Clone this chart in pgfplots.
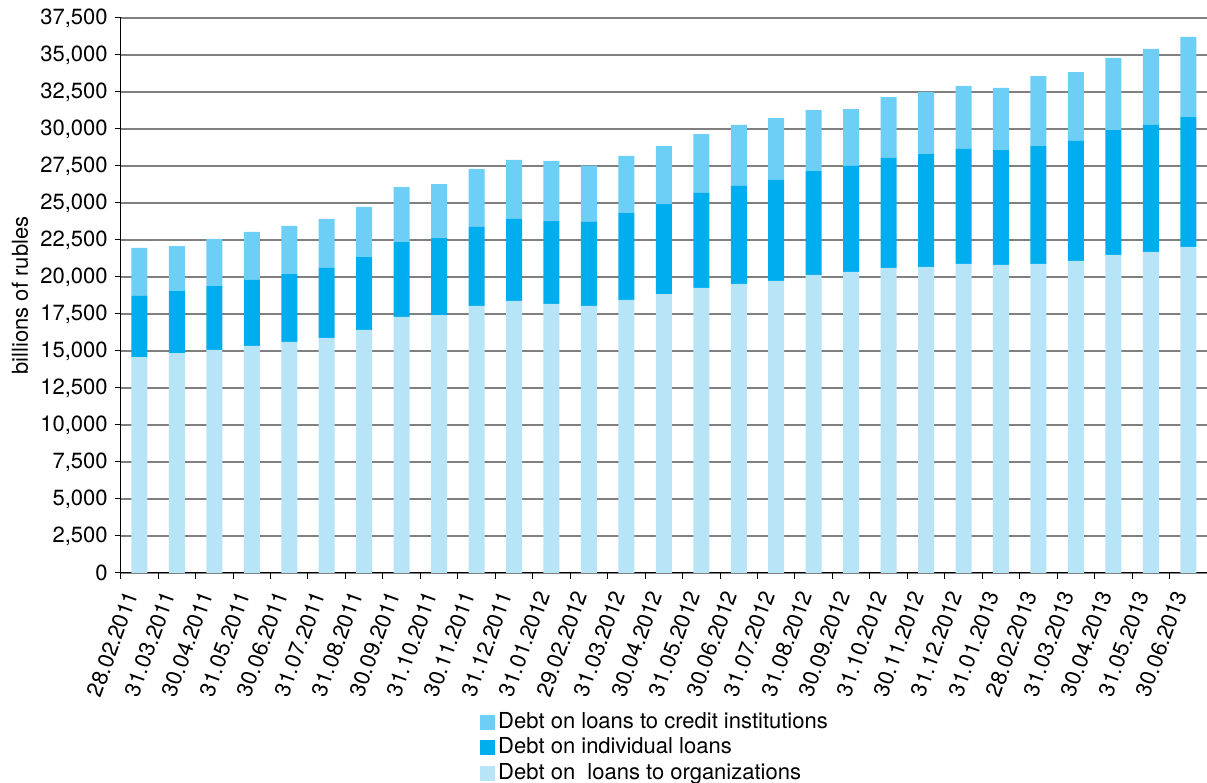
\documentclass[border=0pt]{standalone}
\usepackage{fontspec}
\setmainfont{TeX Gyre Heros}
\usepackage{pgfplots}
\pgfplotsset{compat=1.18}
\usepackage{pgfplotstable}

\definecolor{orgblue}{RGB}{184,228,248}
\definecolor{indblue}{RGB}{0,173,239}
\definecolor{credblue}{RGB}{109,206,246}
\newcommand\chartfont{\fontsize{11}{13}\selectfont}

% Debt by loan type, billions of rubles (segments of each stacked bar)
\pgfplotstableread{
idx org   ind  cred
0   14590 4130 3240
1   14860 4190 3040
2   15070 4320 3180
3   15340 4460 3240
4   15610 4590 3250
5   15880 4730 3310
6   16420 4930 3380
7   17300 5060 3720
8   17430 5200 3650
9   18040 5340 3920
10  18380 5540 3990
11  18180 5600 4060
12  18040 5680 3800
13  18450 5870 3860
14  18850 6080 3920
15  19260 6420 3980
16  19530 6620 4120
17  19730 6830 4180
18  20140 7020 4120
19  20340 7160 3850
20  20610 7430 4120
21  20680 7630 4190
22  20880 7770 4260
23  20810 7770 4190
24  20880 7970 4730
25  21080 8110 4660
26  21490 8440 4870
27  21690 8580 5140
28  22030 8780 5410
}\loans

\begin{document}
\begin{tikzpicture}
\begin{axis}[
  scale only axis, width=543.2pt, height=277.5pt,
  ybar stacked, bar width=8pt,
  xmin=-0.5, xmax=28.5, ymin=0, ymax=37500,
  axis lines=left, axis line style={-, black, line width=0.5pt},
  tick align=outside, major tick length=3pt, minor tick length=3pt,
  tick style={black, line width=0.5pt},
  ytick={0,2500,...,37500}, scaled y ticks=false,
  yticklabel style={font=\chartfont, /pgf/number format/1000 sep={,},
    /pgf/number format/assume math mode=true},
  xtick={0,...,28},
  minor xtick={-0.5,0.5,...,28.5},
  major x tick style={draw=none},
  xticklabels={28.02.2011,31.03.2011,30.04.2011,31.05.2011,30.06.2011,31.07.2011,
    31.08.2011,30.09.2011,31.10.2011,30.11.2011,31.12.2011,31.01.2012,29.02.2012,
    31.03.2012,30.04.2012,31.05.2012,30.06.2012,31.07.2012,31.08.2012,30.09.2012,
    31.10.2012,30.11.2012,31.12.2012,31.01.2013,28.02.2013,31.03.2013,30.04.2013,
    31.05.2013,30.06.2013},
  xticklabel style={font=\chartfont, xshift=-3.3pt, yshift=-4.5pt, rotate=70,
    anchor=east, inner sep=2pt},
  ymajorgrids, grid style={black!50, line width=1pt},
  ylabel={billions of rubles},
  ylabel style={font=\chartfont, at={(axis description cs:-0.0927,0.5)}, anchor=center},
  reverse legend,
  legend cell align=left,
  legend image code/.code={\fill[#1] (0pt,-3.75pt) rectangle (7.5pt,3.75pt);},
  legend style={at={(0.3308,-0.245)}, anchor=north west, draw=none, fill=none,
    font=\chartfont, inner sep=0pt, row sep=0pt,
    nodes={inner sep=1.4pt, text height=8pt, text depth=2pt}},
]
\addplot+[draw=none, fill=orgblue] table[x=idx, y=org] {\loans};
\addplot+[draw=none, fill=indblue] table[x=idx, y=ind] {\loans};
\addplot+[draw=none, fill=credblue] table[x=idx, y=cred] {\loans};
\legend{Debt on\ \ loans to organizations, Debt on individual loans, Debt on loans to credit institutions}
\coordinate (bl) at (rel axis cs:0,0);
\coordinate (tr) at (rel axis cs:1,1);
\end{axis}
\pgfresetboundingbox
\path[use as bounding box] ([xshift=-60.35pt,yshift=-105pt]bl) rectangle ([yshift=9pt]tr);
\end{tikzpicture}
\end{document}
